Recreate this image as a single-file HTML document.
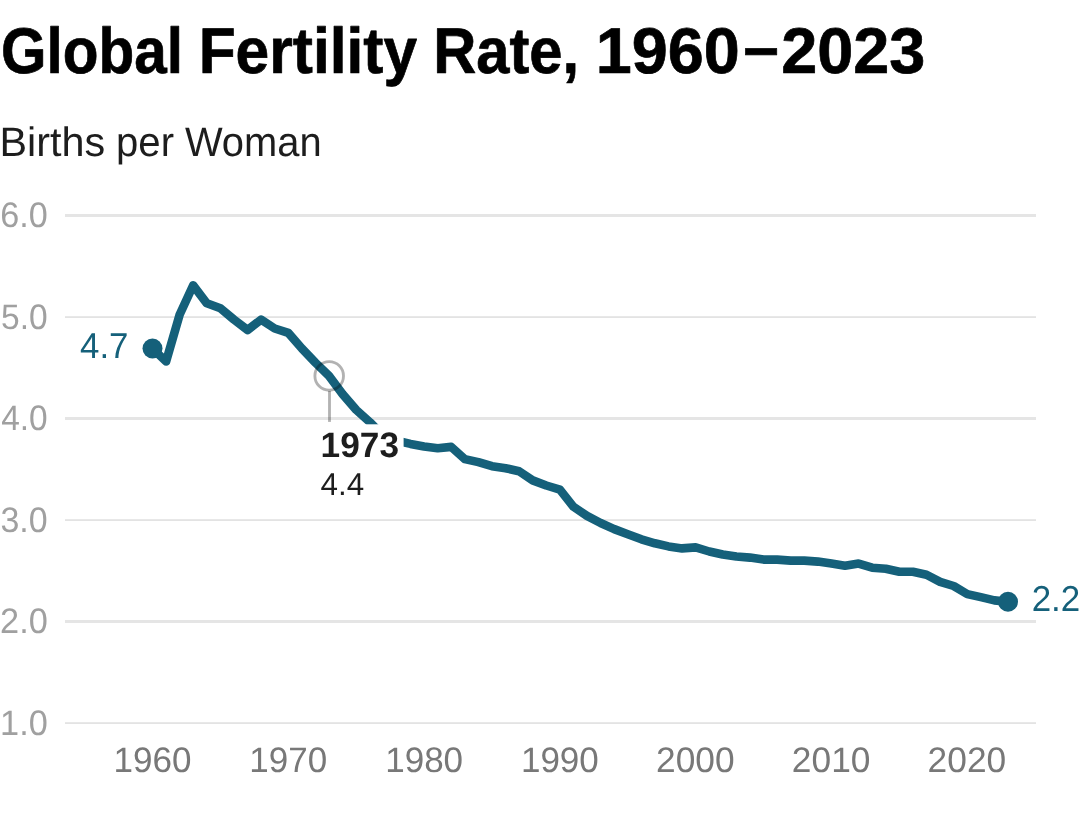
<!DOCTYPE html>
<html><head><meta charset="utf-8"><title>Global Fertility Rate, 1960–2023</title>
<style>
html,body{margin:0;padding:0;background:#fff;}
body{width:1080px;height:819px;overflow:hidden;position:relative;font-family:"Liberation Sans",sans-serif;}
svg{position:absolute;left:0;top:0;}
svg text{font-family:"Liberation Sans",sans-serif;white-space:pre;text-rendering:geometricPrecision;}
</style></head><body>
<svg width="1080" height="819" viewBox="0 0 1080 819">
<g id="grid" shape-rendering="crispEdges"><rect x="65" y="214" width="971" height="3" fill="#e5e5e5"/><rect x="65" y="316" width="971" height="1" fill="#e8e8e8"/><rect x="65" y="317" width="971" height="1" fill="#e3e3e3"/><rect x="65" y="417" width="971" height="3" fill="#e5e5e5"/><rect x="65" y="519" width="971" height="1" fill="#e8e8e8"/><rect x="65" y="520" width="971" height="1" fill="#e3e3e3"/><rect x="65" y="620" width="971" height="3" fill="#e5e5e5"/><rect x="65" y="722" width="971" height="1" fill="#e8e8e8"/><rect x="65" y="723" width="971" height="1" fill="#e3e3e3"/></g>
<g id="series">
<polyline points="152.5,348.5 166.1,361.5 179.7,314.5 193.2,285.3 206.8,303.3 220.4,308.2 234.0,319.6 247.6,330.0 261.1,319.6 274.7,328.5 288.3,332.9 301.9,348.5 315.5,362.7 329.0,375.9 342.6,394.1 356.2,409.9 369.8,422.1 383.3,435.8 396.9,440.8 410.5,443.9 424.1,446.4 437.7,448.3 451.2,446.9 464.8,459.1 478.4,462.1 492.0,466.2 505.6,468.2 519.1,471.3 532.7,480.4 546.3,485.5 559.9,489.6 573.5,506.8 587.0,515.9 600.6,523.0 614.2,529.1 627.8,534.2 641.4,539.3 654.9,543.3 668.5,546.4 682.1,548.4 695.7,547.4 709.3,551.5 722.8,554.5 736.4,556.5 750.0,557.6 763.6,559.6 777.2,559.6 790.7,560.6 804.3,560.6 817.9,561.6 831.5,563.6 845.0,565.7 858.6,563.6 872.2,567.7 885.8,568.7 899.4,571.8 912.9,571.8 926.5,574.8 940.1,581.9 953.7,586.0 967.3,594.1 980.8,597.1 994.4,600.4 1008.0,601.8" fill="none" stroke="#15607a" stroke-width="8.6" stroke-linejoin="round" stroke-linecap="round"/>
<circle cx="152.5" cy="348.5" r="10" fill="#15607a"/>
<circle cx="1008.0" cy="601.8" r="10" fill="#15607a"/>
</g>
<g id="anno">
<line x1="329.5" y1="391" x2="329.5" y2="421.9" stroke="#000" stroke-opacity="0.3" stroke-width="2.86"/>
<circle cx="329.2" cy="375.9" r="14.3" fill="none" stroke="#000" stroke-opacity="0.3" stroke-width="2.86"/>
<rect x="316" y="424.3" width="87.6" height="80" fill="#fff"/>
</g>
<g id="labels">
<text id="t1" stroke="#000" stroke-width="0.7" stroke-linejoin="round" x="1.02" y="72.9" font-size="64.6" font-weight="bold" fill="#000" textLength="181.95" lengthAdjust="spacingAndGlyphs">Global</text>
<text id="t2" stroke="#000" stroke-width="0.7" stroke-linejoin="round" x="198.67" y="72.9" font-size="64.6" font-weight="bold" fill="#000" textLength="218.45" lengthAdjust="spacingAndGlyphs">Fertility</text>
<text id="t3" stroke="#000" stroke-width="0.7" stroke-linejoin="round" x="433.15" y="72.9" font-size="64.6" font-weight="bold" fill="#000" textLength="145.85" lengthAdjust="spacingAndGlyphs">Rate,</text>
<text id="t4" stroke="#000" stroke-width="0.7" stroke-linejoin="round" x="595.81" y="72.9" font-size="64.6" font-weight="bold" fill="#000" textLength="143.95" lengthAdjust="spacingAndGlyphs">1960</text>
<text id="t5" stroke="#000" stroke-width="0.7" stroke-linejoin="round" x="743.42" y="68.5" font-size="64.6" font-weight="bold" fill="#000" textLength="35.22" lengthAdjust="spacingAndGlyphs">–</text>
<text id="t6" stroke="#000" stroke-width="0.7" stroke-linejoin="round" x="781.17" y="72.9" font-size="64.6" font-weight="bold" fill="#000" textLength="144.08" lengthAdjust="spacingAndGlyphs">2023</text>
<text id="s1" x="-0.52" y="155.6" font-size="41.2" font-weight="normal" fill="#1d1d1d" textLength="105.74" lengthAdjust="spacingAndGlyphs">Births</text>
<text id="s2" x="116.08" y="155.6" font-size="41.2" font-weight="normal" fill="#1d1d1d" textLength="57.92" lengthAdjust="spacingAndGlyphs">per</text>
<text id="s3" x="184.93" y="155.6" font-size="41.2" font-weight="normal" fill="#1d1d1d" textLength="136.72" lengthAdjust="spacingAndGlyphs">Woman</text>
<text id="v1" x="80.07" y="357.8" font-size="36.0" font-weight="normal" fill="#15607a" textLength="48.41" lengthAdjust="spacingAndGlyphs">4.7</text>
<text id="v2" x="1031.67" y="610.9" font-size="36.0" font-weight="normal" fill="#15607a" textLength="48.57" lengthAdjust="spacingAndGlyphs">2.2</text>
<text id="a1" x="320.62" y="456.8" font-size="35.4" font-weight="bold" fill="#1d1d1d" textLength="78.36" lengthAdjust="spacingAndGlyphs">1973</text>
<text id="a2" x="320.49" y="495.0" font-size="31.8" font-weight="normal" fill="#1d1d1d" textLength="43.63" lengthAdjust="spacingAndGlyphs">4.4</text>
<text id="y6" x="0.21" y="226.6" font-size="35.4" font-weight="normal" fill="#a0a0a0" textLength="47.54" lengthAdjust="spacingAndGlyphs">6.0</text>
<text id="y5" x="0.99" y="328.6" font-size="35.4" font-weight="normal" fill="#a0a0a0" textLength="46.65" lengthAdjust="spacingAndGlyphs">5.0</text>
<text id="y4" x="1.21" y="429.6" font-size="35.4" font-weight="normal" fill="#a0a0a0" textLength="46.52" lengthAdjust="spacingAndGlyphs">4.0</text>
<text id="y3" x="0.47" y="531.6" font-size="35.4" font-weight="normal" fill="#a0a0a0" textLength="47.19" lengthAdjust="spacingAndGlyphs">3.0</text>
<text id="y2" x="0.08" y="632.6" font-size="35.4" font-weight="normal" fill="#a0a0a0" textLength="47.71" lengthAdjust="spacingAndGlyphs">2.0</text>
<text id="y1" x="0.11" y="734.6" font-size="35.4" font-weight="normal" fill="#a0a0a0" textLength="47.67" lengthAdjust="spacingAndGlyphs">1.0</text>
<text id="x1960" x="113.59" y="771.7" font-size="35.4" font-weight="normal" fill="#787878" textLength="77.93" lengthAdjust="spacingAndGlyphs">1960</text>
<text id="x1970" x="249.30" y="771.7" font-size="35.4" font-weight="normal" fill="#787878" textLength="77.85" lengthAdjust="spacingAndGlyphs">1970</text>
<text id="x1980" x="385.16" y="771.7" font-size="35.4" font-weight="normal" fill="#787878" textLength="77.96" lengthAdjust="spacingAndGlyphs">1980</text>
<text id="x1990" x="520.92" y="771.7" font-size="35.4" font-weight="normal" fill="#787878" textLength="77.92" lengthAdjust="spacingAndGlyphs">1990</text>
<text id="x2000" x="656.06" y="771.7" font-size="35.4" font-weight="normal" fill="#787878" textLength="78.56" lengthAdjust="spacingAndGlyphs">2000</text>
<text id="x2010" x="791.86" y="771.7" font-size="35.4" font-weight="normal" fill="#787878" textLength="78.58" lengthAdjust="spacingAndGlyphs">2010</text>
<text id="x2020" x="927.59" y="771.7" font-size="35.4" font-weight="normal" fill="#787878" textLength="78.61" lengthAdjust="spacingAndGlyphs">2020</text>
</g>
</svg>
</body></html>
